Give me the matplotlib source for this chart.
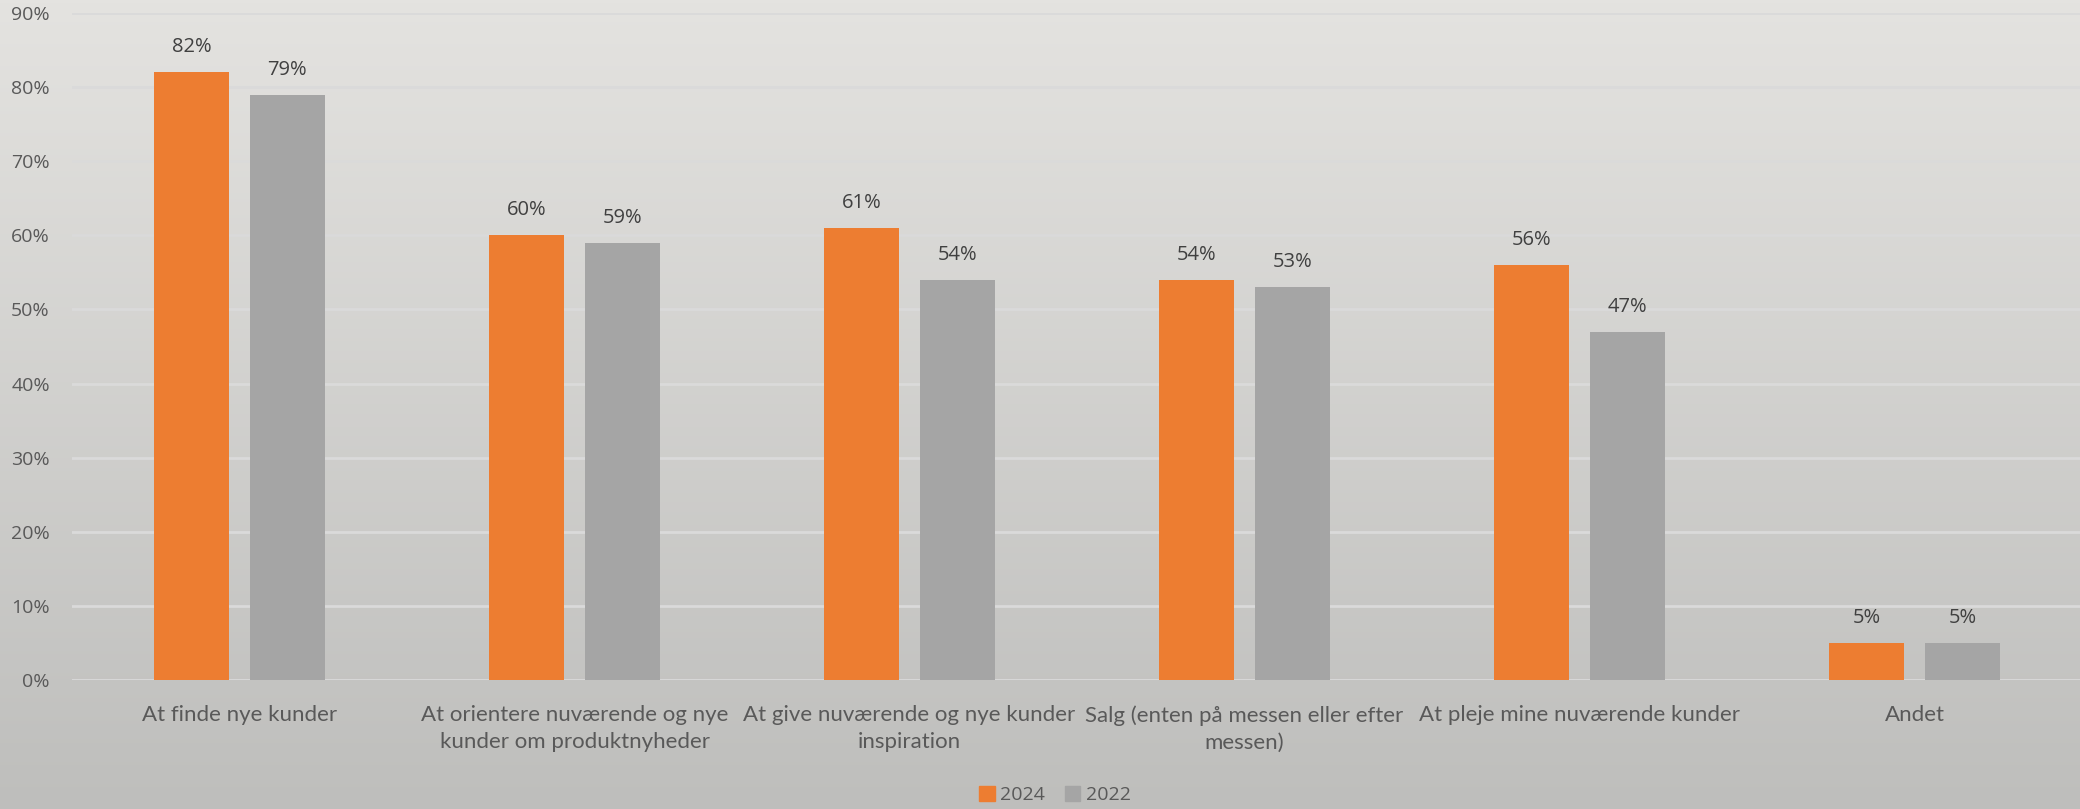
import numpy as np
import matplotlib
matplotlib.use("Agg")
import matplotlib.pyplot as plt
from matplotlib.patches import Patch

categories = [
    "At finde nye kunder",
    "At orientere nuværende og nye\nkunder om produktnyheder",
    "At give nuværende og nye kunder\ninspiration",
    "Salg (enten på messen eller efter\nmessen)",
    "At pleje mine nuværende kunder",
    "Andet",
]
values_2024 = [82, 60, 61, 54, 56, 5]
values_2022 = [79, 59, 54, 53, 47, 5]
series_names = ["2024", "2022"]
yticks = [0, 10, 20, 30, 40, 50, 60, 70, 80, 90]

ORANGE = "#ED7D31"
GRAY = "#A5A5A5"
TEXT = "#595959"

W, H = 2080, 809
fig = plt.figure(figsize=(W / 100, H / 100), dpi=100)

# background gradient
bg = fig.add_axes([0, 0, 1, 1], zorder=-10)
top = np.array([228, 227, 224]) / 255
bot = np.array([190, 190, 188]) / 255
t = np.linspace(0, 1, 256)[:, None]
grad = top[None, :] * (1 - t) + bot[None, :] * t
img = np.repeat(grad[:, None, :], 2, axis=1)
bg.imshow(img, aspect="auto", extent=[0, 1, 0, 1], origin="upper")
bg.set_axis_off()

left = 72 / W
right = 2082 / W
bottom_px = 680
top_px = 13
ax = fig.add_axes([left, 1 - bottom_px / H, right - left, (bottom_px - top_px) / H])
ax.patch.set_alpha(0)

x = np.arange(len(categories))
bw = 0.224
off = 0.143
b1 = ax.bar(x - off, values_2024, bw, color=ORANGE, label=series_names[0], zorder=3)
b2 = ax.bar(x + off, values_2022, bw, color=GRAY, label=series_names[1], zorder=3)

for bars, vals in ((b1, values_2024), (b2, values_2022)):
    for rect, v in zip(bars, vals):
        ax.annotate(f"{v}%", (rect.get_x() + rect.get_width() / 2, v),
                    xytext=(0, 25), textcoords="offset pixels",
                    ha="center", va="center", fontsize=14.5,
                    family="Open Sans", color="#404040")

ax.set_xlim(-0.5, len(categories) - 0.5)
ax.set_ylim(0, 90)
ax.set_yticks(yticks)
ax.set_yticklabels([f"{v}%" for v in yticks], family="Open Sans", fontsize=14, color=TEXT)
ax.set_xticks(x)
ax.set_xticklabels(categories, family="Lato", fontsize=16, color=TEXT, linespacing=1.45)
ax.tick_params(axis="both", length=0)
ax.tick_params(axis="y", pad=16)
ax.tick_params(axis="x", pad=18)
ax.grid(axis="y", color="#dadada", linewidth=2, zorder=0)
for s in ax.spines.values():
    s.set_visible(False)

handles = [Patch(color=ORANGE, label=series_names[0]), Patch(color=GRAY, label=series_names[1])]
fig.legend(handles=handles, loc="center", bbox_to_anchor=(1055 / W, 1 - 795 / H), ncol=2,
           frameon=False, prop={"family": "Open Sans", "size": 14},
           handlelength=0.8, handleheight=0.8, handletextpad=0.3, columnspacing=1.0,
           labelcolor=TEXT)

fig.savefig("out.png", dpi=100)
